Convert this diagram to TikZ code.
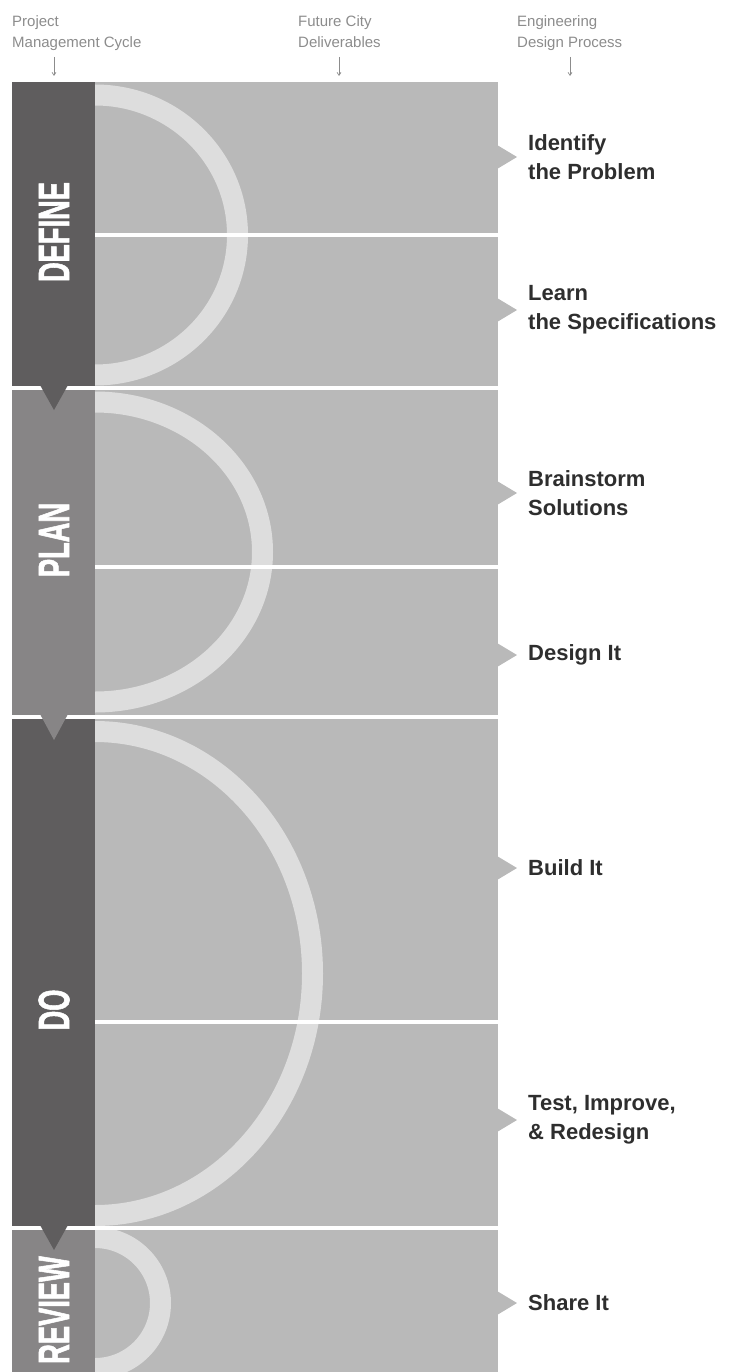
\documentclass[tikz,border=0pt]{standalone}
\usepackage{fontspec}
\setmainfont{Liberation Sans}
\newfontfamily\barfont[FakeStretch=0.62, FakeBold=1.2]{Liberation Sans Bold}
\usetikzlibrary{arrows.meta}
\usetikzlibrary{positioning}

\definecolor{bardark}{HTML}{5F5D5E}
\definecolor{barmid}{HTML}{878586}
\definecolor{panelgray}{HTML}{B9B9B9}
\definecolor{arcgray}{HTML}{DDDDDD}
\definecolor{steptext}{HTML}{2E2E2E}
\definecolor{headtext}{HTML}{8C8C8C}

\begin{document}
\begin{tikzpicture}[x=1pt, y=-1pt]
   \tikzstyle{hnode}=[anchor=north west, align=left, inner sep=0pt, text=headtext, font=\fontsize{15}{21}\selectfont]
   \tikzstyle{harrow}=[headtext, line width=0.7pt, -{Straight Barb[length=3pt, width=4pt]}]
   \tikzstyle{snode}=[anchor=west, align=left, inner sep=0pt, text=steptext, font=\fontsize{22}{29}\selectfont\bfseries]
   \tikzstyle{pnode}=[rotate=90, inner sep=0pt, text=white, font=\barfont\fontsize{44}{44}\selectfont]
   \tikzstyle{band}=[arcgray, line width=21pt]
   \tikzstyle{divider}=[white, line width=3.5pt]
   \tikzstyle{pointer}=[fill=panelgray]

   \useasboundingbox (0, 0) rectangle (732, 1372);

   % column headings
   \draw (12, 15) node[hnode] (hpm) {Project\\Management Cycle};
   \draw (298, 15) node[hnode] (hfc) {Future City\\Deliverables};
   \draw (517, 15) node[hnode] (hed) {Engineering\\Design Process};
   \coordinate (apm1) at (54, 57);
   \coordinate (apm2) at (54, 76);
   \coordinate (afc1) at (339, 57);
   \coordinate (afc2) at (339, 76);
   \coordinate (aed1) at (570, 57);
   \coordinate (aed2) at (570, 76);
   \draw[harrow] (apm1) -- (apm2);
   \draw[harrow] (afc1) -- (afc2);
   \draw[harrow] (aed1) -- (aed2);

   % gray panel and phase bars
   \fill[panelgray] (95, 82) rectangle (498, 1372);
   \fill[bardark] (12, 82) rectangle (95, 388);
   \fill[barmid] (12, 388) rectangle (95, 717);
   \fill[bardark] (12, 717) rectangle (95, 1228);
   \fill[barmid] (12, 1228) rectangle (95, 1372);

   % arcs
   \begin{scope}
      \clip (95, 82) rectangle (498, 1372);
      \draw[band] (95, 235) ellipse [x radius=142.5pt, y radius=140pt];
      \draw[band] (95, 552) ellipse [x radius=167.5pt, y radius=150pt];
      \draw[band] (95, 973.5) ellipse [x radius=217.5pt, y radius=242pt];
      \draw[band] (95, 1303) ellipse [x radius=65.5pt, y radius=65.5pt];
   \end{scope}

   % dividers
   \draw[divider] (12, 388) -- (498, 388);
   \draw[divider] (12, 717) -- (498, 717);
   \draw[divider] (12, 1228) -- (498, 1228);
   \draw[divider] (95, 235) -- (498, 235);
   \draw[divider] (95, 567) -- (498, 567);
   \draw[divider] (95, 1022) -- (498, 1022);

   % phase pointers
   \fill[bardark] (40, 385) -- (68, 385) -- (54, 410) -- cycle;
   \fill[barmid] (40, 714) -- (68, 714) -- (54, 740) -- cycle;
   \fill[bardark] (40, 1225) -- (68, 1225) -- (54, 1250) -- cycle;

   % phase names
   \draw (54, 232) node[pnode] (pdefine) {DEFINE};
   \draw (54, 540) node[pnode] (pplan) {PLAN};
   \draw (54, 1010) node[pnode] (pdo) {DO};
   \draw (54, 1310) node[pnode] (preview) {REVIEW};

   % step pointers
   \foreach \y in {157, 310, 493, 655, 868, 1120, 1303}
      \fill[pointer] (497, \y-12) -- (517, \y) -- (497, \y+12) -- cycle;

   % steps
   \draw (528, 157) node[snode] (sident) {Identify\\the Problem};
   \draw (528, 310) node[snode] (slearn) {Learn\\the Specifications};
   \draw (528, 493) node[snode] (sbrain) {Brainstorm\\Solutions};
   \draw (528, 655) node[snode] (sdesign) {Design It};
   \draw (528, 868) node[snode] (sbuild) {Build It};
   \draw (528, 1120) node[snode] (stest) {Test, Improve,\\\& Redesign};
   \draw (528, 1303) node[snode] (sshare) {Share It};
\end{tikzpicture}
\end{document}
